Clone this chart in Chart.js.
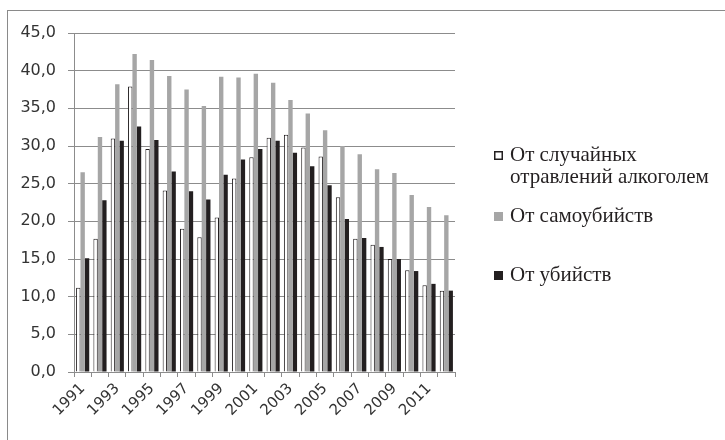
<!DOCTYPE html>
<html>
<head>
<meta charset="utf-8">
<script src="https://cdn.jsdelivr.net/npm/chart.js@4.4.0/dist/chart.umd.min.js"></script>
<style>
  html, body { margin: 0; padding: 0; background: #fff; }
  #wrap { position: relative; width: 725px; height: 440px; }
  #wrap:before {
    content: ""; position: absolute; left: 7px; top: 10px; right: 0; bottom: 0;
    border-left: 1px solid #8a8a8a; border-top: 1px solid #8a8a8a;
  }
  canvas { position: absolute; left: 0; top: 0; }
</style>
</head>
<body>
<div id="wrap"><canvas id="chart" width="725" height="440"></canvas></div>
<script>
const years = ["1991","1992","1993","1994","1995","1996","1997","1998","1999","2000","2001",
               "2002","2003","2004","2005","2006","2007","2008","2009","2010","2011","2012"];
const alcohol = [11.2,17.7,31.0,37.9,29.6,24.1,19.0,17.9,20.5,25.7,28.5,31.1,31.5,29.8,28.6,23.2,17.7,16.9,15.0,13.5,11.5,10.8];
const suicide = [26.5,31.2,38.2,42.2,41.4,39.3,37.5,35.3,39.2,39.1,39.6,38.4,36.1,34.3,32.1,30.0,28.9,26.9,26.4,23.5,21.9,20.8];
const murder  = [15.1,22.8,30.7,32.6,30.8,26.6,24.0,22.9,26.2,28.2,29.6,30.7,29.1,27.3,24.8,20.3,17.8,16.6,15.0,13.4,11.7,10.8];
const seriesNames = [["От случайных", "отравлений алкоголем"], ["От самоубийств"], ["От убийств"]];

const gridColor = "#8c8c8c";
const dark = "#231f20";
const grey = "#a6a6a6";

// legend drawn by hand, like the original (boxes + serif text on the right)
const legendPos = [151, 212, 271];
const sideLegend = {
  id: "sideLegend",
  afterDraw(chart) {
    const ctx = chart.ctx;
    ctx.save();
    ctx.font = '21px "Liberation Serif", "DejaVu Serif", serif';
    ctx.textBaseline = "alphabetic";
    chart.data.datasets.forEach((ds, i) => {
      const top = legendPos[i];
      ctx.fillStyle = ds.backgroundColor;
      ctx.fillRect(494, top, 9, 9);
      if (ds.backgroundColor === "#ffffff") {
        ctx.strokeStyle = dark;
        ctx.lineWidth = 1.5;
        ctx.strokeRect(494.75, top + 0.75, 7.5, 7.5);
      }
      ctx.fillStyle = dark;
      ds.label.forEach((line, j) => {
        ctx.fillText(line, 510, top + 10 + j * 22);
      });
    });
    ctx.restore();
  }
};

const myChart = new Chart(document.getElementById("chart"), {
  type: "bar",
  data: {
    labels: years,
    datasets: [
      { label: seriesNames[0], data: alcohol, backgroundColor: "#ffffff", borderColor: dark, borderWidth: 1 },
      { label: seriesNames[1], data: suicide, backgroundColor: grey, borderWidth: 0 },
      { label: seriesNames[2], data: murder, backgroundColor: dark, borderWidth: 0 }
    ]
  },
  options: {
    responsive: false,
    animation: false,
    layout: { padding: { left: 0, right: 270, top: 33, bottom: 0 } },
    datasets: { bar: { categoryPercentage: 0.76, barPercentage: 1.0 } },
    plugins: { legend: { display: false }, tooltip: { enabled: false } },
    scales: {
      x: {
        grid: { drawOnChartArea: false, color: gridColor, tickLength: 5, offset: true },
        border: { color: gridColor, width: 1 },
        afterFit: (s) => { s.height = 68; },
        ticks: {
          autoSkip: false,
          minRotation: 45, maxRotation: 45,
          padding: 3,
          color: "#333",
          font: { family: '"DejaVu Sans", Verdana, sans-serif', size: 15 },
          callback: (v, i) => (i % 2 === 0 ? years[i] : "")
        }
      },
      y: {
        min: 0, max: 45,
        grid: { color: gridColor, tickLength: 6 },
        border: { color: gridColor, width: 1 },
        afterFit: (s) => { s.width = 74; },
        ticks: {
          stepSize: 5,
          padding: 12,
          color: "#333",
          font: { family: '"DejaVu Sans", Verdana, sans-serif', size: 16 },
          callback: (v) => v.toFixed(1).replace(".", ",")
        }
      }
    }
  },
  plugins: [sideLegend]
});
</script>
</body>
</html>
